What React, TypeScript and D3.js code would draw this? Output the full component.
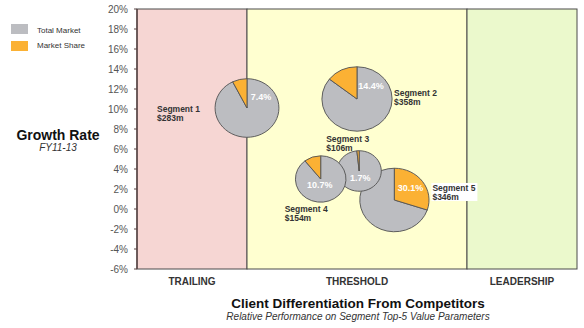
import React from "react";
import * as d3 from "d3";

// ---- data ----
const zoneNames = ["TRAILING", "THRESHOLD", "LEADERSHIP"];
const zoneBounds = [0, 1, 3, 4];
const zoneColors = ["#f6d6d3", "#ffffd0", "#ebf9cc"];

const yTicks = [-6, -4, -2, 0, 2, 4, 6, 8, 10, 12, 14, 16, 18, 20];

const segNames = ["Segment 1", "Segment 2", "Segment 3", "Segment 4", "Segment 5"];
const segX = [1.0, 2.0, 2.02, 1.67, 2.34];
const segGrowth = [10.1, 11.0, 3.8, 3.0, 0.9];
const segMarket = [283, 358, 106, 154, 346];
const segShare = [7.4, 14.4, 1.7, 10.7, 30.1];

// ---- annotation layout (not data) ----
const drawOrder = [0, 1, 4, 2, 3];
const shareDirection = [-1, -1, -1, -1, 1];
const nameOffset: [number, number][] = [[-90, 4], [37, -3], [-33, -29], [-36, 33], [38, -9]];
const pctOffset: [number, number][] = [[14, -8], [14, -10], [1, 10], [-1, 9], [16, -9]];
const nameBox = [false, false, false, false, true];

const W = 584, H = 328;
const font = "'Liberation Sans', Arial, sans-serif";

export default function App() {
  const x = d3.scaleLinear().domain([0, 4]).range([137, 577]);
  const y = d3.scaleLinear().domain([-6, 20]).range([269, 9]);
  const r = d3.scaleSqrt().domain([0, 358]).range([6, 32.2]);
  const stretch = 1.09;
  const arc = d3.arc<any>();

  return (
    <svg width={W} height={H} style={{ position: "absolute", left: 0, top: 0, fontFamily: font }}>
      <rect width={W} height={H} fill="#fff" />
      {zoneNames.map((n, i) => (
        <rect key={n} x={x(zoneBounds[i])} y={y(20)} width={x(zoneBounds[i + 1]) - x(zoneBounds[i])}
          height={y(-6) - y(20)} fill={zoneColors[i]} stroke="#4a4a4a" strokeWidth={1} />
      ))}
      {/* y axis */}
      <line x1={x(0)} x2={x(0)} y1={y(20)} y2={y(-6)} stroke="#5b4646" strokeWidth={1.5} />
      {yTicks.map((t) => (
        <g key={t}>
          <line x1={x(0) - 3} x2={x(0)} y1={y(t)} y2={y(t)} stroke="#5b4646" />
          <text x={128} y={y(t) + 3.5} textAnchor="end" fontSize={10} fill="#555">{t}%</text>
        </g>
      ))}
      {zoneNames.map((n, i) => (
        <text key={n} x={(x(zoneBounds[i]) + x(zoneBounds[i + 1])) / 2} y={285} textAnchor="middle"
          fontSize={10} fontWeight="bold" fill="#333">{n}</text>
      ))}
      {/* pies */}
      {drawOrder.map((i) => {
        const cx = x(segX[i]);
        const cy = y(segGrowth[i]);
        const rad = r(segMarket[i]);
        const a = (segShare[i] / 100) * 2 * Math.PI * shareDirection[i];
        const s0 = Math.min(0, a), s1 = Math.max(0, a);
        return (
          <g key={segNames[i]} transform={`translate(${cx},${cy}) scale(${stretch},1)`}>
            <path d={arc({ innerRadius: 0, outerRadius: rad, startAngle: s1, endAngle: s0 + 2 * Math.PI }) as string}
              fill="#bcbdc1" stroke="#555" strokeWidth={0.9} />
            <path d={arc({ innerRadius: 0, outerRadius: rad, startAngle: s0, endAngle: s1 }) as string}
              fill="#fbb134" stroke="#555" strokeWidth={0.9} />
          </g>
        );
      })}
      {segNames.map((n, i) => {
        const cx = x(segX[i]);
        const cy = y(segGrowth[i]);
        return (
          <g key={n + "-lbl"}>
            <text x={cx + pctOffset[i][0]} y={cy + pctOffset[i][1]} textAnchor="middle" fontSize={9}
              fontWeight="bold" fill="#fff">{segShare[i].toFixed(1)}%</text>
            {nameBox[i] && (
              <rect x={cx + nameOffset[i][0] - 1} y={cy + nameOffset[i][1] - 8} width={46} height={18} fill="#fff" />
            )}
            <text x={cx + nameOffset[i][0]} y={cy + nameOffset[i][1]} fontSize={8.5} fontWeight="bold" fill="#333">
              <tspan>{n}</tspan>
              <tspan x={cx + nameOffset[i][0]} dy={8.5}>${segMarket[i]}m</tspan>
            </text>
          </g>
        );
      })}
      {/* legend */}
      <rect x={11} y={24} width={17} height={10} fill="#bcbdc1" />
      <text x={37} y={33} fontSize={8} fill="#333">Total Market</text>
      <rect x={11} y={41} width={17} height={10} fill="#fbb134" />
      <text x={37} y={48} fontSize={8} fill="#333">Market Share</text>
      {/* titles */}
      <text x={58} y={140} textAnchor="middle" fontSize={14} fontWeight="bold" fill="#111">Growth Rate</text>
      <text x={58} y={151} textAnchor="middle" fontSize={10} fontStyle="italic" fill="#333">FY11-13</text>
      <text x={358} y={308} textAnchor="middle" fontSize={13.5} fontWeight="bold" fill="#111">
        Client Differentiation From Competitors</text>
      <text x={358} y={320} textAnchor="middle" fontSize={10} fontStyle="italic" fill="#333">
        Relative Performance on Segment Top-5 Value Parameters</text>
    </svg>
  );
}
